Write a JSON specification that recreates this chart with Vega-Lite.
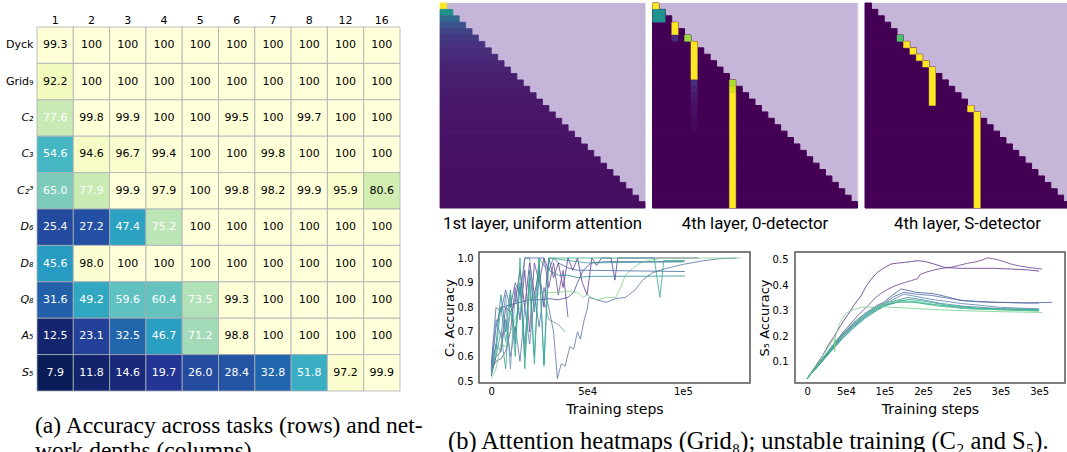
{
"$schema": "https://vega.github.io/schema/vega-lite/v6.json",
"padding": {"left": 5, "top": 2, "right": 0, "bottom": 0},
"background": "white",
"spacing": 15,
"resolve": {"scale": {"color": "independent", "stroke": "independent"}},
"config": {
  "view": {"stroke": null},
  "axis": {"labelFont": "DejaVu Sans", "titleFont": "DejaVu Sans", "titleFontWeight": "normal", "labelColor": "#000000", "titleColor": "#000000", "grid": false, "domain": false, "ticks": false},
  "title": {"fontWeight": "normal", "color": "#000000"}
},
"datasets": {
  "acc": [
    {"t":"Dyck","d":1,"v":99.3},{"t":"Dyck","d":2,"v":100},{"t":"Dyck","d":3,"v":100},{"t":"Dyck","d":4,"v":100},{"t":"Dyck","d":5,"v":100},{"t":"Dyck","d":6,"v":100},{"t":"Dyck","d":7,"v":100},{"t":"Dyck","d":8,"v":100},{"t":"Dyck","d":12,"v":100},{"t":"Dyck","d":16,"v":100},
    {"t":"Grid₉","d":1,"v":92.2},{"t":"Grid₉","d":2,"v":100},{"t":"Grid₉","d":3,"v":100},{"t":"Grid₉","d":4,"v":100},{"t":"Grid₉","d":5,"v":100},{"t":"Grid₉","d":6,"v":100},{"t":"Grid₉","d":7,"v":100},{"t":"Grid₉","d":8,"v":100},{"t":"Grid₉","d":12,"v":100},{"t":"Grid₉","d":16,"v":100},
    {"t":"C₂","d":1,"v":77.6},{"t":"C₂","d":2,"v":99.8},{"t":"C₂","d":3,"v":99.9},{"t":"C₂","d":4,"v":100},{"t":"C₂","d":5,"v":100},{"t":"C₂","d":6,"v":99.5},{"t":"C₂","d":7,"v":100},{"t":"C₂","d":8,"v":99.7},{"t":"C₂","d":12,"v":100},{"t":"C₂","d":16,"v":100},
    {"t":"C₃","d":1,"v":54.6},{"t":"C₃","d":2,"v":94.6},{"t":"C₃","d":3,"v":96.7},{"t":"C₃","d":4,"v":99.4},{"t":"C₃","d":5,"v":100},{"t":"C₃","d":6,"v":100},{"t":"C₃","d":7,"v":99.8},{"t":"C₃","d":8,"v":100},{"t":"C₃","d":12,"v":100},{"t":"C₃","d":16,"v":100},
    {"t":"C₂³","d":1,"v":65.0},{"t":"C₂³","d":2,"v":77.9},{"t":"C₂³","d":3,"v":99.9},{"t":"C₂³","d":4,"v":97.9},{"t":"C₂³","d":5,"v":100},{"t":"C₂³","d":6,"v":99.8},{"t":"C₂³","d":7,"v":98.2},{"t":"C₂³","d":8,"v":99.9},{"t":"C₂³","d":12,"v":95.9},{"t":"C₂³","d":16,"v":80.6},
    {"t":"D₆","d":1,"v":25.4},{"t":"D₆","d":2,"v":27.2},{"t":"D₆","d":3,"v":47.4},{"t":"D₆","d":4,"v":75.2},{"t":"D₆","d":5,"v":100},{"t":"D₆","d":6,"v":100},{"t":"D₆","d":7,"v":100},{"t":"D₆","d":8,"v":100},{"t":"D₆","d":12,"v":100},{"t":"D₆","d":16,"v":100},
    {"t":"D₈","d":1,"v":45.6},{"t":"D₈","d":2,"v":98.0},{"t":"D₈","d":3,"v":100},{"t":"D₈","d":4,"v":100},{"t":"D₈","d":5,"v":100},{"t":"D₈","d":6,"v":100},{"t":"D₈","d":7,"v":100},{"t":"D₈","d":8,"v":100},{"t":"D₈","d":12,"v":100},{"t":"D₈","d":16,"v":100},
    {"t":"Q₈","d":1,"v":31.6},{"t":"Q₈","d":2,"v":49.2},{"t":"Q₈","d":3,"v":59.6},{"t":"Q₈","d":4,"v":60.4},{"t":"Q₈","d":5,"v":73.5},{"t":"Q₈","d":6,"v":99.3},{"t":"Q₈","d":7,"v":100},{"t":"Q₈","d":8,"v":100},{"t":"Q₈","d":12,"v":100},{"t":"Q₈","d":16,"v":100},
    {"t":"A₅","d":1,"v":12.5},{"t":"A₅","d":2,"v":23.1},{"t":"A₅","d":3,"v":32.5},{"t":"A₅","d":4,"v":46.7},{"t":"A₅","d":5,"v":71.2},{"t":"A₅","d":6,"v":98.8},{"t":"A₅","d":7,"v":100},{"t":"A₅","d":8,"v":100},{"t":"A₅","d":12,"v":100},{"t":"A₅","d":16,"v":100},
    {"t":"S₅","d":1,"v":7.9},{"t":"S₅","d":2,"v":11.8},{"t":"S₅","d":3,"v":14.6},{"t":"S₅","d":4,"v":19.7},{"t":"S₅","d":5,"v":26.0},{"t":"S₅","d":6,"v":28.4},{"t":"S₅","d":7,"v":32.8},{"t":"S₅","d":8,"v":51.8},{"t":"S₅","d":12,"v":97.2},{"t":"S₅","d":16,"v":99.9}
  ],
  "bg": [{"c0":0,"c1":32,"r0":0,"r1":32}],
  "tri": [
    {"r0":0,"r1":1,"c0":0,"c1":1,"v":1},{"r0":1,"r1":2,"c0":0,"c1":2,"v":0.5},{"r0":2,"r1":3,"c0":0,"c1":3,"v":0.3333},{"r0":3,"r1":4,"c0":0,"c1":4,"v":0.25},
    {"r0":4,"r1":5,"c0":0,"c1":5,"v":0.2},{"r0":5,"r1":6,"c0":0,"c1":6,"v":0.1667},{"r0":6,"r1":7,"c0":0,"c1":7,"v":0.1429},{"r0":7,"r1":8,"c0":0,"c1":8,"v":0.125},
    {"r0":8,"r1":9,"c0":0,"c1":9,"v":0.1111},{"r0":9,"r1":10,"c0":0,"c1":10,"v":0.1},{"r0":10,"r1":11,"c0":0,"c1":11,"v":0.0909},{"r0":11,"r1":12,"c0":0,"c1":12,"v":0.0833},
    {"r0":12,"r1":13,"c0":0,"c1":13,"v":0.0769},{"r0":13,"r1":14,"c0":0,"c1":14,"v":0.0714},{"r0":14,"r1":15,"c0":0,"c1":15,"v":0.0667},{"r0":15,"r1":16,"c0":0,"c1":16,"v":0.0625},
    {"r0":16,"r1":17,"c0":0,"c1":17,"v":0.0588},{"r0":17,"r1":18,"c0":0,"c1":18,"v":0.0556},{"r0":18,"r1":19,"c0":0,"c1":19,"v":0.0526},{"r0":19,"r1":20,"c0":0,"c1":20,"v":0.05},
    {"r0":20,"r1":21,"c0":0,"c1":21,"v":0.0476},{"r0":21,"r1":22,"c0":0,"c1":22,"v":0.0455},{"r0":22,"r1":23,"c0":0,"c1":23,"v":0.0435},{"r0":23,"r1":24,"c0":0,"c1":24,"v":0.0417},
    {"r0":24,"r1":25,"c0":0,"c1":25,"v":0.04},{"r0":25,"r1":26,"c0":0,"c1":26,"v":0.0385},{"r0":26,"r1":27,"c0":0,"c1":27,"v":0.037},{"r0":27,"r1":28,"c0":0,"c1":28,"v":0.0357},
    {"r0":28,"r1":29,"c0":0,"c1":29,"v":0.0345},{"r0":29,"r1":30,"c0":0,"c1":30,"v":0.0333},{"r0":30,"r1":31,"c0":0,"c1":31,"v":0.0323},{"r0":31,"r1":32,"c0":0,"c1":32,"v":0.0313}
  ],
  "h2": [
    {"r0":0,"r1":1,"c0":0,"c1":1,"v":1},
    {"r0":1,"r1":3,"c0":0,"c1":2,"v":0.5},
    {"r0":3,"r1":5,"c0":3,"c1":4,"v":1},
    {"r0":5,"r1":6,"c0":3,"c1":4,"v":0.12},
    {"r0":5,"r1":6,"c0":5,"c1":6,"v":0.85},
    {"r0":6,"r1":12,"c0":6,"c1":7,"v":1},
    {"r0":12,"r1":13,"c0":6,"c1":7,"v":0.13},
    {"r0":13,"r1":14,"c0":6,"c1":7,"v":0.09},
    {"r0":14,"r1":15,"c0":6,"c1":7,"v":0.07},
    {"r0":15,"r1":16,"c0":6,"c1":7,"v":0.05},
    {"r0":16,"r1":18,"c0":6,"c1":7,"v":0.035},
    {"r0":18,"r1":20,"c0":6,"c1":7,"v":0.02},
    {"r0":12,"r1":13,"c0":12,"c1":13,"v":0.88},
    {"r0":13,"r1":14,"c0":12,"c1":13,"v":0.94},
    {"r0":14,"r1":32,"c0":12,"c1":13,"v":1}
  ],
  "h3": [
    {"r0":5,"r1":6,"c0":5,"c1":6,"v":0.72},
    {"r0":6,"r1":7,"c0":6,"c1":7,"v":1},
    {"r0":7,"r1":8,"c0":7,"c1":8,"v":1},
    {"r0":8,"r1":9,"c0":8,"c1":9,"v":1},
    {"r0":9,"r1":10,"c0":9,"c1":10,"v":1},
    {"r0":10,"r1":16,"c0":10,"c1":11,"v":1},
    {"r0":16,"r1":17,"c0":16,"c1":17,"v":1},
    {"r0":17,"r1":32,"c0":17,"c1":18,"v":1}
  ],
  "c2": [
    {"s":"a","x":0,"y":0.52},{"s":"a","x":2500,"y":0.60},{"s":"a","x":5000,"y":0.62},{"s":"a","x":7500,"y":0.80},{"s":"a","x":10000,"y":0.78},{"s":"a","x":12500,"y":0.82},{"s":"a","x":15000,"y":0.95},{"s":"a","x":17500,"y":0.80},{"s":"a","x":20000,"y":0.98},{"s":"a","x":22500,"y":0.85},{"s":"a","x":25000,"y":0.95},{"s":"a","x":27500,"y":0.80},{"s":"a","x":30000,"y":1.0},{"s":"a","x":32500,"y":0.92},{"s":"a","x":35000,"y":0.98},{"s":"a","x":37500,"y":0.88},{"s":"a","x":40000,"y":1.0},{"s":"a","x":42500,"y":0.95},{"s":"a","x":45000,"y":1.0},{"s":"a","x":47500,"y":0.90},{"s":"a","x":50000,"y":0.85},{"s":"a","x":52500,"y":1.0},{"s":"a","x":55000,"y":0.97},{"s":"a","x":57500,"y":1.0},{"s":"a","x":62500,"y":1.0},{"s":"a","x":64500,"y":0.91},{"s":"a","x":66000,"y":1.0},{"s":"a","x":108000,"y":1.0},
    {"s":"b","x":0,"y":0.55},{"s":"b","x":2500,"y":0.58},{"s":"b","x":5000,"y":0.59},{"s":"b","x":7500,"y":0.62},{"s":"b","x":10000,"y":0.70},{"s":"b","x":12500,"y":0.88},{"s":"b","x":15000,"y":0.75},{"s":"b","x":17500,"y":0.95},{"s":"b","x":20000,"y":0.70},{"s":"b","x":22500,"y":0.98},{"s":"b","x":25000,"y":0.90},{"s":"b","x":27500,"y":1.0},{"s":"b","x":30000,"y":0.88},{"s":"b","x":32500,"y":0.98},{"s":"b","x":35000,"y":0.85},{"s":"b","x":37500,"y":0.95},{"s":"b","x":40000,"y":0.76},
    {"s":"c","x":0,"y":0.55},{"s":"c","x":2500,"y":0.72},{"s":"c","x":5000,"y":0.80},{"s":"c","x":10000,"y":0.81},{"s":"c","x":15000,"y":0.82},{"s":"c","x":20000,"y":0.83},{"s":"c","x":25000,"y":0.83},{"s":"c","x":30000,"y":0.835},{"s":"c","x":35000,"y":0.83},{"s":"c","x":40000,"y":0.84},{"s":"c","x":43000,"y":0.86},{"s":"c","x":45000,"y":0.90},{"s":"c","x":48000,"y":0.95},{"s":"c","x":52000,"y":0.98},{"s":"c","x":60000,"y":0.985},{"s":"c","x":100000,"y":0.985},
    {"s":"d","x":0,"y":0.56},{"s":"d","x":2500,"y":0.65},{"s":"d","x":5000,"y":0.62},{"s":"d","x":7500,"y":0.75},{"s":"d","x":10000,"y":0.60},{"s":"d","x":12500,"y":0.72},{"s":"d","x":15000,"y":0.58},{"s":"d","x":17500,"y":0.80},{"s":"d","x":20000,"y":0.65},{"s":"d","x":22500,"y":0.85},{"s":"d","x":25000,"y":0.72},{"s":"d","x":27500,"y":0.88},{"s":"d","x":30000,"y":0.80},{"s":"d","x":32500,"y":0.70},{"s":"d","x":34500,"y":0.51},{"s":"d","x":36500,"y":0.57},{"s":"d","x":38500,"y":0.56},{"s":"d","x":41000,"y":0.64},{"s":"d","x":43000,"y":0.63},{"s":"d","x":45000,"y":0.70},{"s":"d","x":46500,"y":0.67},{"s":"d","x":48500,"y":0.75},{"s":"d","x":50000,"y":0.79},{"s":"d","x":51000,"y":0.84},{"s":"d","x":55000,"y":0.83},{"s":"d","x":60000,"y":0.82},{"s":"d","x":65000,"y":0.835},{"s":"d","x":70000,"y":0.84},{"s":"d","x":75000,"y":0.87},{"s":"d","x":79000,"y":0.91},{"s":"d","x":84000,"y":0.94},{"s":"d","x":91000,"y":0.957},{"s":"d","x":100000,"y":0.974},{"s":"d","x":110000,"y":0.988},{"s":"d","x":119000,"y":0.997},{"s":"d","x":128000,"y":1.0},
    {"s":"e","x":0,"y":0.51},{"s":"e","x":2500,"y":0.55},{"s":"e","x":5000,"y":0.65},{"s":"e","x":7500,"y":0.64},{"s":"e","x":10000,"y":0.70},{"s":"e","x":12500,"y":0.75},{"s":"e","x":15000,"y":0.80},{"s":"e","x":17500,"y":0.82},{"s":"e","x":20000,"y":0.84},{"s":"e","x":25000,"y":0.855},{"s":"e","x":30000,"y":0.86},{"s":"e","x":35000,"y":0.86},{"s":"e","x":40000,"y":0.865},{"s":"e","x":45000,"y":0.86},{"s":"e","x":48000,"y":0.84},{"s":"e","x":50000,"y":0.85},{"s":"e","x":55000,"y":0.83},{"s":"e","x":60000,"y":0.84},{"s":"e","x":65000,"y":0.84},{"s":"e","x":67500,"y":0.88},{"s":"e","x":70000,"y":0.93},{"s":"e","x":74000,"y":0.96},{"s":"e","x":78000,"y":0.98},{"s":"e","x":82000,"y":0.99},{"s":"e","x":90000,"y":1.0},{"s":"e","x":130000,"y":1.0},
    {"s":"f","x":0,"y":0.53},{"s":"f","x":2500,"y":0.65},{"s":"f","x":5000,"y":0.85},{"s":"f","x":7500,"y":0.70},{"s":"f","x":10000,"y":0.87},{"s":"f","x":12500,"y":0.65},{"s":"f","x":15000,"y":0.90},{"s":"f","x":17500,"y":0.60},{"s":"f","x":20000,"y":0.95},{"s":"f","x":22500,"y":0.78},{"s":"f","x":25000,"y":1.0},{"s":"f","x":27500,"y":0.97},{"s":"f","x":30000,"y":0.95},{"s":"f","x":35000,"y":0.93},{"s":"f","x":40000,"y":0.93},{"s":"f","x":45000,"y":0.92},{"s":"f","x":50000,"y":0.925},{"s":"f","x":101000,"y":0.927},
    {"s":"g","x":0,"y":0.55},{"s":"g","x":2500,"y":0.60},{"s":"g","x":5000,"y":0.70},{"s":"g","x":7500,"y":0.55},{"s":"g","x":10000,"y":0.85},{"s":"g","x":12500,"y":0.60},{"s":"g","x":15000,"y":1.0},{"s":"g","x":17500,"y":0.55},{"s":"g","x":20000,"y":0.90},{"s":"g","x":22500,"y":0.57},{"s":"g","x":25000,"y":1.0},{"s":"g","x":27500,"y":0.56},{"s":"g","x":30000,"y":1.0},{"s":"g","x":85000,"y":1.0},{"s":"g","x":88000,"y":0.84},{"s":"g","x":90000,"y":0.99},{"s":"g","x":101000,"y":0.99},
    {"s":"h","x":0,"y":0.54},{"s":"h","x":2500,"y":0.75},{"s":"h","x":5000,"y":0.68},{"s":"h","x":7500,"y":0.85},{"s":"h","x":10000,"y":0.55},{"s":"h","x":12500,"y":0.86},{"s":"h","x":15000,"y":0.75},{"s":"h","x":17500,"y":1.0},{"s":"h","x":20000,"y":1.0},{"s":"h","x":22500,"y":0.80},{"s":"h","x":25000,"y":0.90},{"s":"h","x":27500,"y":0.83},{"s":"h","x":30000,"y":0.75},{"s":"h","x":32500,"y":0.74},{"s":"h","x":35000,"y":0.73},{"s":"h","x":38500,"y":0.70},
    {"s":"i","x":0,"y":0.57},{"s":"i","x":2500,"y":0.80},{"s":"i","x":5000,"y":0.78},{"s":"i","x":7500,"y":0.87},{"s":"i","x":10000,"y":0.80},{"s":"i","x":12500,"y":0.90},{"s":"i","x":15000,"y":0.85},{"s":"i","x":17500,"y":1.0},{"s":"i","x":27500,"y":1.0},{"s":"i","x":30000,"y":0.95},{"s":"i","x":32500,"y":1.0},{"s":"i","x":35000,"y":0.98},{"s":"i","x":40000,"y":0.96},{"s":"i","x":45000,"y":0.95},{"s":"i","x":50000,"y":0.95},{"s":"i","x":101000,"y":0.945},
    {"s":"j","x":0,"y":0.53},{"s":"j","x":2500,"y":0.62},{"s":"j","x":5000,"y":0.80},{"s":"j","x":7500,"y":0.66},{"s":"j","x":10000,"y":0.78},{"s":"j","x":12500,"y":0.70},{"s":"j","x":15000,"y":0.88},{"s":"j","x":17500,"y":0.65},{"s":"j","x":20000,"y":0.92},{"s":"j","x":22500,"y":0.60},{"s":"j","x":25000,"y":0.97},{"s":"j","x":27500,"y":0.57},{"s":"j","x":30000,"y":1.0},{"s":"j","x":40000,"y":0.99},{"s":"j","x":50000,"y":0.98},{"s":"j","x":101000,"y":0.985}
  ],
  "s5": [
    {"s":"p1","x":0,"y":0.035},{"s":"p1","x":10000,"y":0.08},{"s":"p1","x":20000,"y":0.125},{"s":"p1","x":27000,"y":0.163},{"s":"p1","x":35000,"y":0.2},{"s":"p1","x":42000,"y":0.235},{"s":"p1","x":48600,"y":0.267},{"s":"p1","x":55000,"y":0.295},{"s":"p1","x":60000,"y":0.32},{"s":"p1","x":65000,"y":0.34},{"s":"p1","x":69800,"y":0.359},{"s":"p1","x":76000,"y":0.395},{"s":"p1","x":82900,"y":0.424},{"s":"p1","x":90000,"y":0.448},{"s":"p1","x":95800,"y":0.461},{"s":"p1","x":102000,"y":0.472},{"s":"p1","x":108700,"y":0.483},{"s":"p1","x":118000,"y":0.487},{"s":"p1","x":125900,"y":0.489},{"s":"p1","x":135000,"y":0.493},{"s":"p1","x":143000,"y":0.496},{"s":"p1","x":150000,"y":0.494},{"s":"p1","x":156000,"y":0.49},{"s":"p1","x":165000,"y":0.482},{"s":"p1","x":177600,"y":0.47},{"s":"p1","x":190000,"y":0.467},{"s":"p1","x":199000,"y":0.466},{"s":"p1","x":220000,"y":0.466},{"s":"p1","x":242000,"y":0.466},{"s":"p1","x":265000,"y":0.463},{"s":"p1","x":285000,"y":0.46},{"s":"p1","x":300000,"y":0.455},
    {"s":"p2","x":0,"y":0.035},{"s":"p2","x":10000,"y":0.075},{"s":"p2","x":20000,"y":0.115},{"s":"p2","x":30000,"y":0.15},{"s":"p2","x":40000,"y":0.19},{"s":"p2","x":48000,"y":0.222},{"s":"p2","x":55000,"y":0.245},{"s":"p2","x":60000,"y":0.262},{"s":"p2","x":66000,"y":0.283},{"s":"p2","x":72000,"y":0.3},{"s":"p2","x":76000,"y":0.312},{"s":"p2","x":82900,"y":0.333},{"s":"p2","x":88000,"y":0.35},{"s":"p2","x":95800,"y":0.368},{"s":"p2","x":105000,"y":0.385},{"s":"p2","x":113000,"y":0.397},{"s":"p2","x":118000,"y":0.402},{"s":"p2","x":125900,"y":0.41},{"s":"p2","x":135000,"y":0.418},{"s":"p2","x":143000,"y":0.426},{"s":"p2","x":146000,"y":0.442},{"s":"p2","x":155000,"y":0.452},{"s":"p2","x":164500,"y":0.46},{"s":"p2","x":175000,"y":0.466},{"s":"p2","x":186000,"y":0.47},{"s":"p2","x":197000,"y":0.478},{"s":"p2","x":207600,"y":0.486},{"s":"p2","x":216000,"y":0.49},{"s":"p2","x":224800,"y":0.497},{"s":"p2","x":233400,"y":0.507},{"s":"p2","x":240000,"y":0.504},{"s":"p2","x":246000,"y":0.5},{"s":"p2","x":255000,"y":0.492},{"s":"p2","x":263500,"y":0.483},{"s":"p2","x":275000,"y":0.475},{"s":"p2","x":285000,"y":0.47},{"s":"p2","x":304000,"y":0.463},
    {"s":"b1","x":0,"y":0.035},{"s":"b1","x":15000,"y":0.09},{"s":"b1","x":30000,"y":0.15},{"s":"b1","x":45000,"y":0.205},{"s":"b1","x":60000,"y":0.25},{"s":"b1","x":75000,"y":0.29},{"s":"b1","x":90000,"y":0.32},{"s":"b1","x":100000,"y":0.335},{"s":"b1","x":110000,"y":0.36},{"s":"b1","x":121000,"y":0.385},{"s":"b1","x":130000,"y":0.38},{"s":"b1","x":140000,"y":0.372},{"s":"b1","x":150000,"y":0.37},{"s":"b1","x":164000,"y":0.366},{"s":"b1","x":180000,"y":0.355},{"s":"b1","x":199000,"y":0.34},{"s":"b1","x":220000,"y":0.335},{"s":"b1","x":242000,"y":0.333},{"s":"b1","x":285000,"y":0.33},{"s":"b1","x":317000,"y":0.333},
    {"s":"b2","x":0,"y":0.035},{"s":"b2","x":15000,"y":0.088},{"s":"b2","x":30000,"y":0.145},{"s":"b2","x":45000,"y":0.2},{"s":"b2","x":60000,"y":0.245},{"s":"b2","x":75000,"y":0.285},{"s":"b2","x":90000,"y":0.315},{"s":"b2","x":100000,"y":0.33},{"s":"b2","x":112000,"y":0.355},{"s":"b2","x":125000,"y":0.372},{"s":"b2","x":140000,"y":0.365},{"s":"b2","x":160000,"y":0.36},{"s":"b2","x":180000,"y":0.35},{"s":"b2","x":200000,"y":0.34},{"s":"b2","x":240000,"y":0.333},{"s":"b2","x":300000,"y":0.33},
    {"s":"b3","x":0,"y":0.035},{"s":"b3","x":15000,"y":0.087},{"s":"b3","x":30000,"y":0.14},{"s":"b3","x":45000,"y":0.195},{"s":"b3","x":60000,"y":0.24},{"s":"b3","x":75000,"y":0.28},{"s":"b3","x":90000,"y":0.31},{"s":"b3","x":100000,"y":0.325},{"s":"b3","x":115000,"y":0.35},{"s":"b3","x":125000,"y":0.365},{"s":"b3","x":140000,"y":0.356},{"s":"b3","x":160000,"y":0.345},{"s":"b3","x":200000,"y":0.328},{"s":"b3","x":250000,"y":0.313},{"s":"b3","x":300000,"y":0.307},
    {"s":"t1","x":0,"y":0.035},{"s":"t1","x":15000,"y":0.085},{"s":"t1","x":30000,"y":0.14},{"s":"t1","x":45000,"y":0.19},{"s":"t1","x":60000,"y":0.235},{"s":"t1","x":75000,"y":0.275},{"s":"t1","x":90000,"y":0.305},{"s":"t1","x":100000,"y":0.32},{"s":"t1","x":115000,"y":0.34},{"s":"t1","x":130000,"y":0.352},{"s":"t1","x":145000,"y":0.345},{"s":"t1","x":170000,"y":0.33},{"s":"t1","x":200000,"y":0.318},{"s":"t1","x":250000,"y":0.308},{"s":"t1","x":300000,"y":0.305},
    {"s":"t2","x":0,"y":0.035},{"s":"t2","x":15000,"y":0.086},{"s":"t2","x":30000,"y":0.138},{"s":"t2","x":45000,"y":0.188},{"s":"t2","x":60000,"y":0.232},{"s":"t2","x":75000,"y":0.27},{"s":"t2","x":90000,"y":0.3},{"s":"t2","x":100000,"y":0.318},{"s":"t2","x":115000,"y":0.332},{"s":"t2","x":130000,"y":0.345},{"s":"t2","x":150000,"y":0.338},{"s":"t2","x":180000,"y":0.322},{"s":"t2","x":220000,"y":0.31},{"s":"t2","x":260000,"y":0.305},{"s":"t2","x":300000,"y":0.303},
    {"s":"t3","x":0,"y":0.035},{"s":"t3","x":15000,"y":0.087},{"s":"t3","x":30000,"y":0.142},{"s":"t3","x":45000,"y":0.195},{"s":"t3","x":60000,"y":0.24},{"s":"t3","x":75000,"y":0.275},{"s":"t3","x":90000,"y":0.305},{"s":"t3","x":100000,"y":0.32},{"s":"t3","x":115000,"y":0.333},{"s":"t3","x":135000,"y":0.335},{"s":"t3","x":160000,"y":0.325},{"s":"t3","x":200000,"y":0.312},{"s":"t3","x":250000,"y":0.305},{"s":"t3","x":300000,"y":0.302},
    {"s":"t4","x":0,"y":0.035},{"s":"t4","x":15000,"y":0.09},{"s":"t4","x":30000,"y":0.15},{"s":"t4","x":45000,"y":0.2},{"s":"t4","x":60000,"y":0.245},{"s":"t4","x":75000,"y":0.283},{"s":"t4","x":90000,"y":0.31},{"s":"t4","x":100000,"y":0.325},{"s":"t4","x":120000,"y":0.335},{"s":"t4","x":140000,"y":0.332},{"s":"t4","x":170000,"y":0.318},{"s":"t4","x":210000,"y":0.307},{"s":"t4","x":300000,"y":0.3},
    {"s":"g1","x":0,"y":0.035},{"s":"g1","x":15000,"y":0.1},{"s":"g1","x":30000,"y":0.17},{"s":"g1","x":35000,"y":0.19},{"s":"g1","x":35500,"y":0.14},{"s":"g1","x":36500,"y":0.2},{"s":"g1","x":42000,"y":0.25},{"s":"g1","x":50000,"y":0.29},{"s":"g1","x":60000,"y":0.305},{"s":"g1","x":70000,"y":0.313},{"s":"g1","x":100000,"y":0.315},{"s":"g1","x":130000,"y":0.31},{"s":"g1","x":160000,"y":0.305},{"s":"g1","x":199000,"y":0.3},{"s":"g1","x":250000,"y":0.296},{"s":"g1","x":304000,"y":0.293},
    {"s":"g2","x":0,"y":0.035},{"s":"g2","x":15000,"y":0.092},{"s":"g2","x":30000,"y":0.155},{"s":"g2","x":45000,"y":0.21},{"s":"g2","x":60000,"y":0.255},{"s":"g2","x":75000,"y":0.29},{"s":"g2","x":90000,"y":0.315},{"s":"g2","x":105000,"y":0.335},{"s":"g2","x":120000,"y":0.34},{"s":"g2","x":140000,"y":0.336},{"s":"g2","x":170000,"y":0.322},{"s":"g2","x":200000,"y":0.31},{"s":"g2","x":250000,"y":0.303},{"s":"g2","x":300000,"y":0.298}
  ]
},
"hconcat": [
  {
    "spacing": 0,
    "vconcat": [
      {"width": 1, "height": 11, "data": {"values": []}, "mark": "point"},
      {
        "width": 363,
        "height": 364,
        "data": {"name": "acc"},
        "title": {"text": ["(a) Accuracy across tasks (rows) and net-", "work depths (columns)."], "orient": "bottom", "anchor": "start", "frame": "group", "font": "Liberation Serif", "fontSize": 23.5, "lineHeight": 25, "offset": 42, "baseline": "alphabetic", "dx": -2},
        "encoding": {
          "x": {"field": "d", "type": "ordinal", "sort": [1,2,3,4,5,6,7,8,12,16], "axis": {"orient": "top", "title": null, "labelAngle": 0, "labelFontSize": 11, "labelPadding": 2}},
          "y": {"field": "t", "type": "nominal", "sort": ["Dyck","Grid₉","C₂","C₃","C₂³","D₆","D₈","Q₈","A₅","S₅"], "axis": {"title": null, "labelFontSize": 11, "labelPadding": 4, "labelFontStyle": {"condition": {"test": "datum.value == 'Dyck' || datum.value == 'Grid₉'", "value": "normal"}, "value": "italic"}}}
        },
        "layer": [
          {"mark": {"type": "rect", "stroke": "#a9adb5", "strokeWidth": 0.8},
           "encoding": {"color": {"field": "v", "type": "quantitative", "scale": {"domain": [7.9,19.41,30.93,42.44,53.95,65.46,76.98,88.49,100], "range": ["#081d58","#253494","#225ea8","#1d91c0","#41b6c4","#7fcdbb","#c7e9b4","#edf8b1","#ffffd9"], "interpolate": "rgb"}, "legend": null}}},
          {"mark": {"type": "text", "font": "DejaVu Sans", "fontSize": 11},
           "encoding": {
             "text": {"condition": {"test": "datum.v === 100", "value": "100"}, "field": "v", "type": "quantitative", "format": ".1f"},
             "color": {"condition": {"test": "datum.v < 79", "value": "#ffffff"}, "value": "#000000"}}}
        ]
      }
    ]
  },
  {
    "spacing": 17,
    "resolve": {"scale": {"color": "independent", "stroke": "independent"}},
    "title": {"text": "(b) Attention heatmaps (Grid₈); unstable training (C₂ and S₅).", "orient": "bottom", "anchor": "start", "frame": "group", "font": "Liberation Serif", "fontSize": 24.5, "offset": 32, "baseline": "alphabetic", "dx": 8},
    "vconcat": [
      {
        "spacing": 5.5,
        "resolve": {"scale": {"color": "independent", "stroke": "independent"}},
        "hconcat": [
          {
            "width": 205, "height": 205,
            "view": {"stroke": "#dcdcdc"},
            "title": {"text": "1st layer, uniform attention", "orient": "bottom", "anchor": "middle", "font": "Roboto", "fontSize": 16.8, "offset": 20.5, "baseline": "alphabetic"},
            "encoding": {
              "x": {"field": "c0", "type": "quantitative", "scale": {"domain": [0,32], "nice": false, "zero": false}, "axis": null},
              "x2": {"field": "c1"},
              "y": {"field": "r0", "type": "quantitative", "scale": {"domain": [0,32], "nice": false, "zero": false, "reverse": true}, "axis": null},
              "y2": {"field": "r1"}
            },
            "layer": [
              {"data": {"name": "bg"}, "mark": {"type": "rect", "color": "#c5b5d9"}},
              {"data": {"name": "tri"}, "mark": {"type": "rect", "strokeWidth": 0.8},
               "encoding": {"color": {"field": "v", "type": "quantitative", "scale": {"scheme": "viridis", "domain": [0,1]}, "legend": null},
                            "stroke": {"field": "v", "type": "quantitative", "scale": {"scheme": "viridis", "domain": [0,1]}, "legend": null}}}
            ]
          },
          {
            "width": 205, "height": 205,
            "view": {"stroke": "#dcdcdc"},
            "title": {"text": "4th layer, 0-detector", "orient": "bottom", "anchor": "middle", "font": "Roboto", "fontSize": 16.8, "offset": 20.5, "baseline": "alphabetic"},
            "encoding": {
              "x": {"field": "c0", "type": "quantitative", "scale": {"domain": [0,32], "nice": false, "zero": false}, "axis": null},
              "x2": {"field": "c1"},
              "y": {"field": "r0", "type": "quantitative", "scale": {"domain": [0,32], "nice": false, "zero": false, "reverse": true}, "axis": null},
              "y2": {"field": "r1"}
            },
            "layer": [
              {"data": {"name": "bg"}, "mark": {"type": "rect", "color": "#c5b5d9"}},
              {"data": {"name": "tri"}, "mark": {"type": "rect", "color": "#440154", "stroke": "#440154", "strokeWidth": 1}},
              {"data": {"name": "h2"}, "mark": {"type": "rect", "strokeWidth": 0.4},
               "encoding": {"color": {"field": "v", "type": "quantitative", "scale": {"scheme": "viridis", "domain": [0,1]}, "legend": null},
                            "stroke": {"field": "v", "type": "quantitative", "scale": {"scheme": "viridis", "domain": [0,1]}, "legend": null}}}
            ]
          },
          {
            "width": 205, "height": 205,
            "view": {"stroke": "#dcdcdc"},
            "title": {"text": "4th layer, S-detector", "orient": "bottom", "anchor": "middle", "font": "Roboto", "fontSize": 16.8, "offset": 20.5, "baseline": "alphabetic"},
            "encoding": {
              "x": {"field": "c0", "type": "quantitative", "scale": {"domain": [0,32], "nice": false, "zero": false}, "axis": null},
              "x2": {"field": "c1"},
              "y": {"field": "r0", "type": "quantitative", "scale": {"domain": [0,32], "nice": false, "zero": false, "reverse": true}, "axis": null},
              "y2": {"field": "r1"}
            },
            "layer": [
              {"data": {"name": "bg"}, "mark": {"type": "rect", "color": "#c5b5d9"}},
              {"data": {"name": "tri"}, "mark": {"type": "rect", "color": "#440154", "stroke": "#440154", "strokeWidth": 1}},
              {"data": {"name": "h3"}, "mark": {"type": "rect", "strokeWidth": 0.4},
               "encoding": {"color": {"field": "v", "type": "quantitative", "scale": {"scheme": "viridis", "domain": [0,1]}, "legend": null},
                            "stroke": {"field": "v", "type": "quantitative", "scale": {"scheme": "viridis", "domain": [0,1]}, "legend": null}}}
            ]
          }
        ]
      },
      {
        "spacing": 0,
        "resolve": {"scale": {"color": "independent", "stroke": "independent"}},
        "hconcat": [
          {"width": 2, "height": 1, "data": {"values": []}, "mark": "point"},
          {
            "spacing": 6,
            "resolve": {"scale": {"color": "independent", "stroke": "independent"}},
            "hconcat": [
              {
                "width": 271, "height": 131,
                "view": {"stroke": "#555555", "strokeWidth": 1.5},
                "data": {"name": "c2"},
                "mark": {"type": "line", "strokeWidth": 1, "opacity": 0.8},
                "encoding": {
                  "x": {"field": "x", "type": "quantitative", "scale": {"domain": [-6400, 135000], "nice": false, "zero": false}, "axis": {"values": [0, 50000, 100000], "labelExpr": "datum.value == 0 ? '0' : replace(format(datum.value, '.0e'), '+', '')", "title": "Training steps", "labelFontSize": 10, "titleFontSize": 14, "labelPadding": 3, "titlePadding": 6}},
                  "y": {"field": "y", "type": "quantitative", "scale": {"domain": [0.4919, 1.0244], "nice": false, "zero": false}, "axis": {"values": [0.5,0.6,0.7,0.8,0.9,1.0], "format": ".1f", "title": "C₂ Accuracy", "labelFontSize": 10, "titleFontSize": 13, "labelPadding": 6, "titlePadding": 1}},
                  "color": {"field": "s", "type": "nominal", "scale": {"domain": ["a","b","c","d","e","f","g","h","i","j"], "range": ["#5d3a8e","#6f4c9b","#3e4f94","#5b72a8","#7ed38c","#2c8f92","#35a98a","#6c93b8","#4a6aa3","#3aa39c"]}, "legend": null}
                }
              },
              {
                "width": 270, "height": 131,
                "view": {"stroke": "#555555", "strokeWidth": 1.5},
                "data": {"name": "s5"},
                "mark": {"type": "line", "strokeWidth": 1, "opacity": 0.8},
                "encoding": {
                  "x": {"field": "x", "type": "quantitative", "scale": {"domain": [-15800, 333500], "nice": false, "zero": false}, "axis": {"values": [0,50000,100000,150000,200000,250000,300000], "labelExpr": "datum.value == 0 ? '0' : replace(format(datum.value, '.0e'), '+', '')", "title": "Training steps", "labelFontSize": 10, "titleFontSize": 14, "labelPadding": 3, "titlePadding": 6}},
                  "y": {"field": "y", "type": "quantitative", "scale": {"domain": [0.0165, 0.53], "nice": false, "zero": false}, "axis": {"values": [0.1,0.2,0.3,0.4,0.5], "format": ".1f", "title": "S₅ Accuracy", "labelFontSize": 10, "titleFontSize": 13, "labelPadding": 7, "titlePadding": 1}},
                  "color": {"field": "s", "type": "nominal", "scale": {"domain": ["p1","p2","b1","b2","b3","t1","t2","t3","t4","g1","g2"], "range": ["#5a2d84","#6d3f94","#46599e","#4e6aa8","#5a7db2","#3d8fa6","#33a09c","#2fae92","#45b98c","#74cf8c","#58c08c"]}, "legend": null}
                }
              }
            ]
          }
        ]
      }
    ]
  }
]
}
